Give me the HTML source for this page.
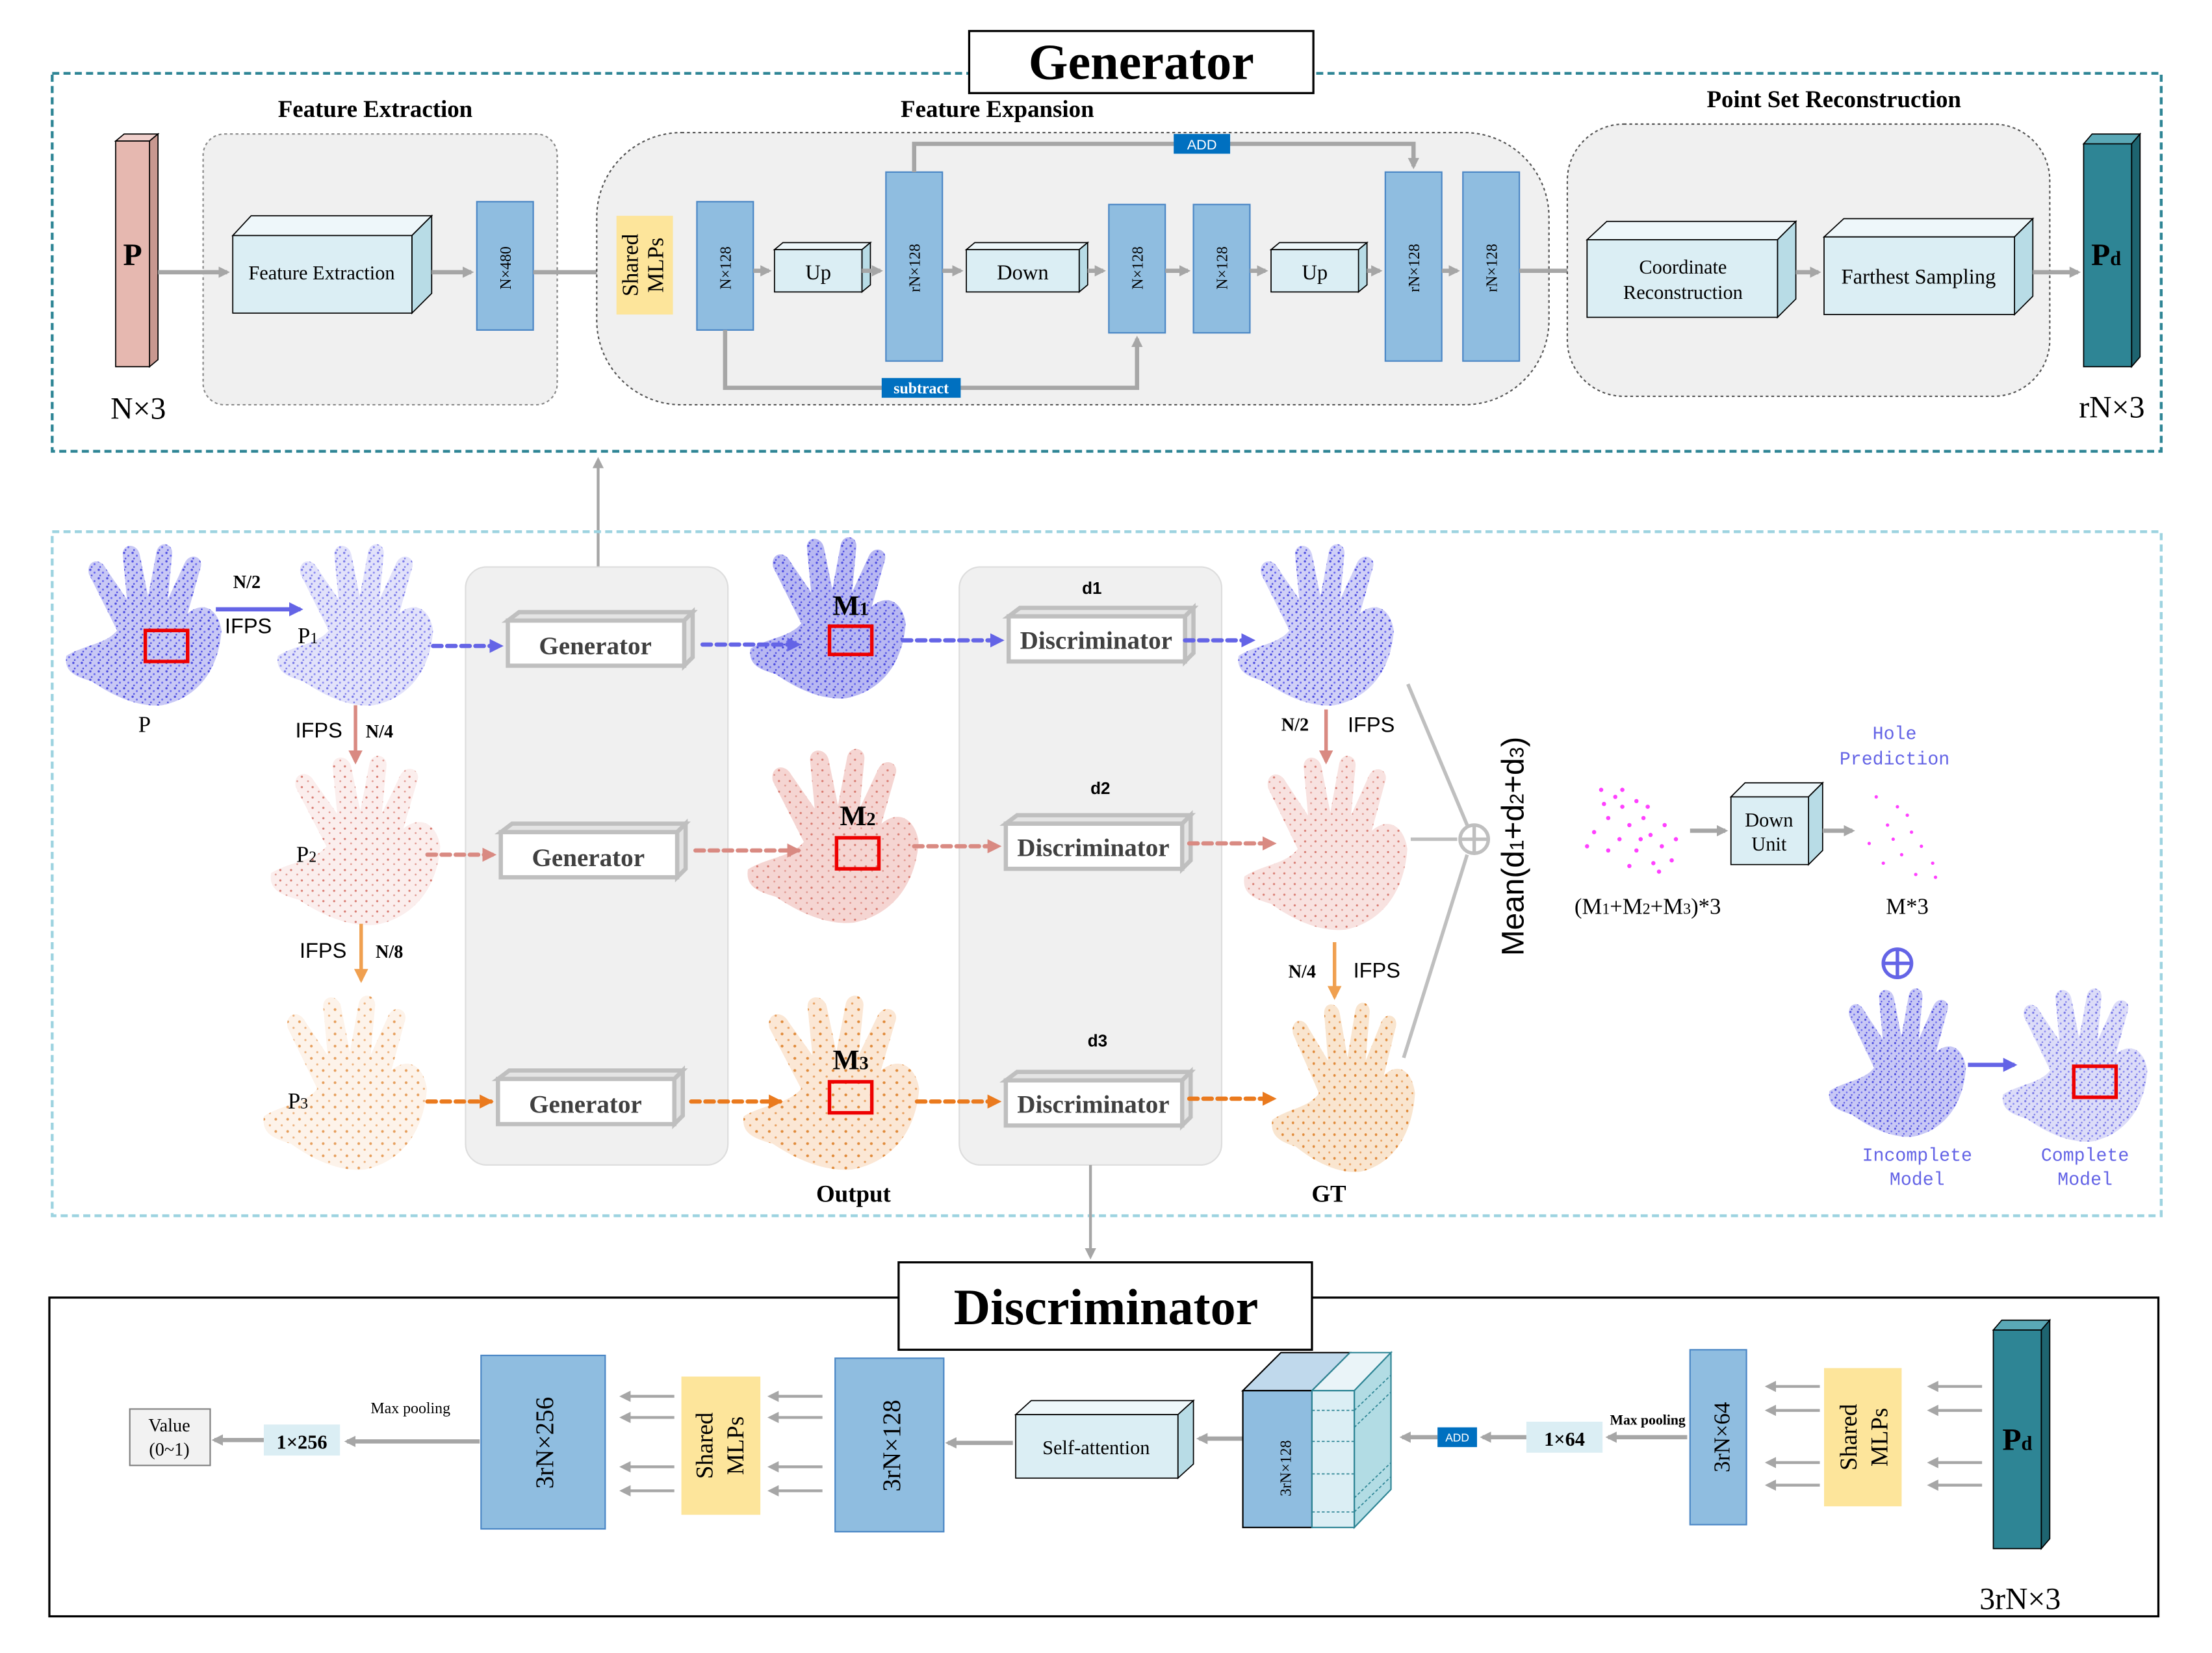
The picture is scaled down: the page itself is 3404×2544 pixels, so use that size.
<!DOCTYPE html>
<html><head><meta charset="utf-8"><style>html,body{margin:0;padding:0;background:#fff}svg{display:block}</style></head><body>
<svg xmlns="http://www.w3.org/2000/svg" width="3404" height="2544" viewBox="0 0 1568 1172" preserveAspectRatio="none" font-family="Liberation Serif, serif">
<defs>
<marker id="ag" markerWidth="8" markerHeight="8" refX="6" refY="4" orient="auto" markerUnits="userSpaceOnUse"><path d="M0,0 L8,4 L0,8 Z" fill="#a6a6a6"/></marker>
<marker id="ab" markerWidth="10" markerHeight="10" refX="8" refY="5" orient="auto" markerUnits="userSpaceOnUse"><path d="M0,0 L10,5 L0,10 Z" fill="#6464e6"/></marker>
<marker id="ap" markerWidth="10" markerHeight="10" refX="8" refY="5" orient="auto" markerUnits="userSpaceOnUse"><path d="M0,0 L10,5 L0,10 Z" fill="#d98a82"/></marker>
<marker id="ao" markerWidth="10" markerHeight="10" refX="8" refY="5" orient="auto" markerUnits="userSpaceOnUse"><path d="M0,0 L10,5 L0,10 Z" fill="#ea7a1e"/></marker>
<marker id="aq" markerWidth="10" markerHeight="10" refX="8" refY="5" orient="auto" markerUnits="userSpaceOnUse"><path d="M0,0 L10,5 L0,10 Z" fill="#f0a050"/></marker>
<pattern id="pb" width="6" height="6" patternUnits="userSpaceOnUse"><circle cx="1" cy="1" r="0.8" fill="#4a4ae0"/><circle cx="4" cy="3" r="0.7" fill="#6a6af0"/><circle cx="2" cy="5" r="0.6" fill="#4a4ae0"/></pattern>
<pattern id="pp" width="7" height="7" patternUnits="userSpaceOnUse"><circle cx="1" cy="1" r="0.7" fill="#d77a70"/><circle cx="5" cy="4" r="0.6" fill="#e09890"/></pattern>
<pattern id="po" width="8" height="8" patternUnits="userSpaceOnUse"><circle cx="2" cy="2" r="0.9" fill="#e08a3a"/><circle cx="6" cy="6" r="0.7" fill="#e8a060"/></pattern>
<path id="hand" d="M2,80 C15,72 30,72 38,62 L18,22 C16,12 26,10 30,18 L45,40 L42,8 C42,0 52,0 54,8 L60,38 L66,6 C68,-2 78,0 77,8 L74,40 L86,14 C90,6 100,10 97,18 L88,50 C100,40 110,48 112,62 C110,90 95,110 70,115 C50,117 30,105 20,98 C10,95 0,92 2,80 Z"/>
</defs>

<rect x="37" y="52" width="1495" height="268" fill="none" stroke="#2e8595" stroke-width="2" stroke-dasharray="5,3"/>
<rect x="687" y="22" width="244" height="44" fill="#fff" stroke="#000" stroke-width="1.5"/>
<text x="809" y="56" text-anchor="middle" font-size="36" font-weight="bold">Generator</text>

<path d="M82,100 L88,95 L112,95 L106,100 Z" fill="#f0d0cc" stroke="#000" stroke-width="0.8"/>
<path d="M106,100 L112,95 L112,255 L106,260 Z" fill="#c89890" stroke="#000" stroke-width="0.8"/>
<rect x="82" y="100" width="24" height="160" fill="#e6b8b0" stroke="#000" stroke-width="0.8"/>
<text x="94" y="188" text-anchor="middle" font-size="22" font-weight="bold">P</text>
<text x="98" y="297" text-anchor="middle" font-size="22">N×3</text>

<rect x="144" y="95" width="251" height="192" rx="15" fill="#f0f0f0" stroke="#888" stroke-dasharray="2,2"/>
<text x="266" y="83" text-anchor="middle" font-size="17" font-weight="bold">Feature Extraction</text>
<path d="M165,167 L178,153 L306,153 L292,167 Z" fill="#eef7fa" stroke="#000" stroke-width="0.8"/>
<path d="M292,167 L306,153 L306,208 L292,222 Z" fill="#b8dce6" stroke="#000" stroke-width="0.8"/>
<rect x="165" y="167" width="127" height="55" fill="#dbeef4" stroke="#000" stroke-width="0.8"/>
<text x="228" y="198" text-anchor="middle" font-size="14">Feature Extraction</text>
<rect x="338" y="143" width="40" height="91" fill="#8fbde0" stroke="#4a86c5"/>
<text transform="translate(362,190) rotate(-90)" text-anchor="middle" font-size="11">N×480</text>
<line x1="112" y1="193" x2="161" y2="193" stroke="#a6a6a6" stroke-width="3" marker-end="url(#ag)"/>
<line x1="306" y1="193" x2="334" y2="193" stroke="#a6a6a6" stroke-width="3" marker-end="url(#ag)"/>
<line x1="378" y1="193" x2="433" y2="193" stroke="#a6a6a6" stroke-width="3" marker-end="url(#ag)"/>

<rect x="423" y="94" width="675" height="193" rx="60" fill="#f0f0f0" stroke="#555" stroke-dasharray="2,2"/>
<text x="707" y="83" text-anchor="middle" font-size="17" font-weight="bold">Feature Expansion</text>
<rect x="437" y="153" width="40" height="70" fill="#fde59b"/>
<text transform="translate(452,188) rotate(-90)" text-anchor="middle" font-size="16">Shared</text>
<text transform="translate(470,188) rotate(-90)" text-anchor="middle" font-size="16">MLPs</text>
<rect x="494" y="143" width="40" height="91" fill="#8fbde0" stroke="#4a86c5"/>
<text transform="translate(518,190) rotate(-90)" text-anchor="middle" font-size="11">N×128</text>
<g stroke="#000" stroke-width="0.8">
<path d="M549,177 L555,172 L617,172 L611,177 Z" fill="#eef7fa"/><path d="M611,177 L617,172 L617,202 L611,207 Z" fill="#b8dce6"/>
<rect x="549" y="177" width="62" height="30" fill="#dbeef4"/>
<path d="M685,177 L691,172 L771,172 L765,177 Z" fill="#eef7fa"/><path d="M765,177 L771,172 L771,202 L765,207 Z" fill="#b8dce6"/>
<rect x="685" y="177" width="80" height="30" fill="#dbeef4"/>
<path d="M901,177 L907,172 L969,172 L963,177 Z" fill="#eef7fa"/><path d="M963,177 L969,172 L969,202 L963,207 Z" fill="#b8dce6"/>
<rect x="901" y="177" width="62" height="30" fill="#dbeef4"/>
</g>
<text x="580" y="198" text-anchor="middle" font-size="15">Up</text>
<text x="725" y="198" text-anchor="middle" font-size="15">Down</text>
<text x="932" y="198" text-anchor="middle" font-size="15">Up</text>
<g fill="#8fbde0" stroke="#4a86c5">
<rect x="628" y="122" width="40" height="134"/><rect x="786" y="145" width="40" height="91"/><rect x="846" y="145" width="40" height="91"/>
<rect x="982" y="122" width="40" height="134"/><rect x="1037" y="122" width="40" height="134"/>
</g>
<g font-size="11" text-anchor="middle">
<text transform="translate(652,190) rotate(-90)">rN×128</text>
<text transform="translate(810,190) rotate(-90)">N×128</text>
<text transform="translate(870,190) rotate(-90)">N×128</text>
<text transform="translate(1006,190) rotate(-90)">rN×128</text>
<text transform="translate(1061,190) rotate(-90)">rN×128</text>
</g>
<g stroke="#a6a6a6" stroke-width="3" fill="none">
<line x1="534" y1="192" x2="545" y2="192" marker-end="url(#ag)"/>
<line x1="611" y1="192" x2="624" y2="192" marker-end="url(#ag)"/>
<line x1="668" y1="192" x2="681" y2="192" marker-end="url(#ag)"/>
<line x1="771" y1="192" x2="782" y2="192" marker-end="url(#ag)"/>
<line x1="826" y1="192" x2="842" y2="192" marker-end="url(#ag)"/>
<line x1="886" y1="192" x2="897" y2="192" marker-end="url(#ag)"/>
<line x1="969" y1="192" x2="978" y2="192" marker-end="url(#ag)"/>
<line x1="1022" y1="192" x2="1033" y2="192" marker-end="url(#ag)"/>
<line x1="1077" y1="192" x2="1121" y2="192" marker-end="url(#ag)"/>
<polyline points="648,122 648,102 1002,102 1002,118" marker-end="url(#ag)"/>
<polyline points="514,234 514,275 806,275 806,240" marker-end="url(#ag)"/>
</g>
<rect x="832" y="95" width="40" height="14" fill="#0070c0"/><text x="852" y="106" text-anchor="middle" font-size="10" fill="#fff" font-family="Liberation Sans, sans-serif">ADD</text>
<rect x="625" y="268" width="56" height="14" fill="#0070c0"/><text x="653" y="279" text-anchor="middle" font-size="11" fill="#fff" font-weight="bold">subtract</text>

<rect x="1111" y="88" width="342" height="193" rx="40" fill="#f0f0f0" stroke="#555" stroke-dasharray="2,2"/>
<text x="1300" y="76" text-anchor="middle" font-size="17" font-weight="bold">Point Set Reconstruction</text>
<g stroke="#000" stroke-width="0.8">
<path d="M1125,170 L1139,157 L1273,157 L1260,170 Z" fill="#eef7fa"/><path d="M1260,170 L1273,157 L1273,212 L1260,225 Z" fill="#b8dce6"/>
<rect x="1125" y="170" width="135" height="55" fill="#dbeef4"/>
<path d="M1293,168 L1307,155 L1441,155 L1428,168 Z" fill="#eef7fa"/><path d="M1428,168 L1441,155 L1441,210 L1428,223 Z" fill="#b8dce6"/>
<rect x="1293" y="168" width="135" height="55" fill="#dbeef4"/>
</g>
<text x="1193" y="194" text-anchor="middle" font-size="14">Coordinate</text>
<text x="1193" y="212" text-anchor="middle" font-size="14">Reconstruction</text>
<text x="1360" y="201" text-anchor="middle" font-size="15">Farthest Sampling</text>
<line x1="1273" y1="193" x2="1289" y2="193" stroke="#a6a6a6" stroke-width="3" marker-end="url(#ag)"/>
<line x1="1441" y1="193" x2="1473" y2="193" stroke="#a6a6a6" stroke-width="3" marker-end="url(#ag)"/>
<path d="M1477,102 L1483,95 L1517,95 L1511,102 Z" fill="#5aa8b6" stroke="#000" stroke-width="0.8"/>
<path d="M1511,102 L1517,95 L1517,253 L1511,260 Z" fill="#1e6470" stroke="#000" stroke-width="0.8"/>
<rect x="1477" y="102" width="34" height="158" fill="#2e8595" stroke="#000" stroke-width="0.8"/>
<text x="1493" y="188" text-anchor="middle" font-size="22" font-weight="bold">P<tspan font-size="14">d</tspan></text>
<text x="1497" y="296" text-anchor="middle" font-size="22">rN×3</text>

<line x1="424" y1="402" x2="424" y2="326" stroke="#a6a6a6" stroke-width="2" marker-end="url(#ag)"/>

<rect x="37" y="377" width="1495" height="485" fill="none" stroke="#9dd3e0" stroke-width="2" stroke-dasharray="5,3"/>
<rect x="330" y="402" width="186" height="424" rx="15" fill="#f0f0f0" stroke="#ddd"/>
<rect x="680" y="402" width="186" height="424" rx="15" fill="#f0f0f0" stroke="#ddd"/>

<g>
<use href="#hand" transform="translate(45,385)" fill="#c8c8f5"/><use href="#hand" transform="translate(45,385)" fill="url(#pb)"/>
<use href="#hand" transform="translate(195,385)" fill="#e2e2fa"/><use href="#hand" transform="translate(195,385)" fill="url(#pb)" opacity="0.7"/>
<use href="#hand" transform="translate(530,380)" fill="#b8b8f2"/><use href="#hand" transform="translate(530,380)" fill="url(#pb)"/>
<use href="#hand" transform="translate(876,385)" fill="#d0d0f7"/><use href="#hand" transform="translate(876,385)" fill="url(#pb)"/>
<use href="#hand" transform="translate(190,535) scale(1.09,1.05)" fill="#fbeeed"/><use href="#hand" transform="translate(190,535) scale(1.09,1.05)" fill="url(#pp)"/>
<use href="#hand" transform="translate(528,530) scale(1.1,1.08)" fill="#f5d5d2"/><use href="#hand" transform="translate(528,530) scale(1.1,1.08)" fill="url(#pp)"/>
<use href="#hand" transform="translate(880,535) scale(1.05,1.08)" fill="#f8e2e0"/><use href="#hand" transform="translate(880,535) scale(1.05,1.08)" fill="url(#pp)"/>
<use href="#hand" transform="translate(185,705) scale(1.05,1.08)" fill="#fdf3ea"/><use href="#hand" transform="translate(185,705) scale(1.05,1.08)" fill="url(#po)" opacity="0.8"/>
<use href="#hand" transform="translate(525,705) scale(1.13,1.08)" fill="#fbe7d5"/><use href="#hand" transform="translate(525,705) scale(1.13,1.08)" fill="url(#po)"/>
<use href="#hand" transform="translate(900,710) scale(0.92,1.05)" fill="#f9e5cf"/><use href="#hand" transform="translate(900,710) scale(0.92,1.05)" fill="url(#po)"/>
<use href="#hand" transform="translate(1295,700) scale(0.88,0.92)" fill="#c8c8f5"/><use href="#hand" transform="translate(1295,700) scale(0.88,0.92)" fill="url(#pb)"/>
<use href="#hand" transform="translate(1418,700) scale(0.93,0.95)" fill="#dcdcf8"/><use href="#hand" transform="translate(1418,700) scale(0.93,0.95)" fill="url(#pb)" opacity="0.7"/>
</g>
<g fill="none" stroke="#e00" stroke-width="2.5">
<rect x="103" y="447" width="30" height="22"/><rect x="588" y="444" width="30" height="20"/><rect x="593" y="594" width="30" height="22"/>
<rect x="588" y="767" width="30" height="22"/><rect x="1470" y="756" width="30" height="22"/>
</g>

<g stroke="#bfbfbf" stroke-width="3">
<path d="M360,440 L368,434 L491,434 L485,440 Z" fill="#e4e4e4"/><path d="M485,440 L491,434 L491,466 L485,472 Z" fill="#e4e4e4"/><rect x="360" y="440" width="125" height="32" fill="#fff"/>
<path d="M355,590 L363,584 L486,584 L480,590 Z" fill="#e4e4e4"/><path d="M480,590 L486,584 L486,616 L480,622 Z" fill="#e4e4e4"/><rect x="355" y="590" width="125" height="32" fill="#fff"/>
<path d="M353,765 L361,759 L484,759 L478,765 Z" fill="#e4e4e4"/><path d="M478,765 L484,759 L484,791 L478,797 Z" fill="#e4e4e4"/><rect x="353" y="765" width="125" height="32" fill="#fff"/>
<path d="M715,437 L723,431 L846,431 L840,437 Z" fill="#e4e4e4"/><path d="M840,437 L846,431 L846,463 L840,469 Z" fill="#e4e4e4"/><rect x="715" y="437" width="125" height="32" fill="#fff"/>
<path d="M713,584 L721,578 L844,578 L838,584 Z" fill="#e4e4e4"/><path d="M838,584 L844,578 L844,610 L838,616 Z" fill="#e4e4e4"/><rect x="713" y="584" width="125" height="32" fill="#fff"/>
<path d="M713,766 L721,760 L844,760 L838,766 Z" fill="#e4e4e4"/><path d="M838,766 L844,760 L844,792 L838,798 Z" fill="#e4e4e4"/><rect x="713" y="766" width="125" height="32" fill="#fff"/>
</g>
<g font-size="18" font-weight="bold" fill="#404040" text-anchor="middle">
<text x="422" y="464">Generator</text><text x="417" y="614">Generator</text><text x="415" y="789">Generator</text>
<text x="777" y="460">Discriminator</text><text x="775" y="607">Discriminator</text><text x="775" y="789">Discriminator</text>
</g>
<g font-family="Liberation Sans, sans-serif" font-size="12" font-weight="bold" text-anchor="middle">
<text x="774" y="421">d1</text><text x="780" y="563">d2</text><text x="778" y="742">d3</text>
</g>

<g font-size="16">
<text x="98" y="519">P</text><text x="211" y="456">P<tspan font-size="11">1</tspan></text>
<text x="210" y="611">P<tspan font-size="11">2</tspan></text><text x="204" y="786">P<tspan font-size="11">3</tspan></text>
</g>
<g font-size="20" font-weight="bold" text-anchor="middle">
<text x="603" y="436">M<tspan font-size="13">1</tspan></text><text x="608" y="585">M<tspan font-size="13">2</tspan></text><text x="603" y="758">M<tspan font-size="13">3</tspan></text>
</g>
<text x="605" y="852" text-anchor="middle" font-size="17" font-weight="bold">Output</text>
<text x="942" y="852" text-anchor="middle" font-size="17" font-weight="bold">GT</text>

<line x1="153" y1="432" x2="213" y2="432" stroke="#6464e6" stroke-width="3" marker-end="url(#ab)"/>
<text x="175" y="417" text-anchor="middle" font-size="13" font-weight="bold">N/2</text>
<text x="176" y="449" text-anchor="middle" font-size="15" font-family="Liberation Sans, sans-serif">IFPS</text>
<line x1="252" y1="500" x2="252" y2="540" stroke="#d98a82" stroke-width="2.5" marker-end="url(#ap)"/>
<text x="226" y="523" text-anchor="middle" font-size="15" font-family="Liberation Sans, sans-serif">IFPS</text>
<text x="269" y="523" text-anchor="middle" font-size="13" font-weight="bold">N/4</text>
<line x1="256" y1="655" x2="256" y2="695" stroke="#f0a050" stroke-width="2.5" marker-end="url(#aq)"/>
<text x="229" y="679" text-anchor="middle" font-size="15" font-family="Liberation Sans, sans-serif">IFPS</text>
<text x="276" y="679" text-anchor="middle" font-size="13" font-weight="bold">N/8</text>
<line x1="940" y1="503" x2="940" y2="540" stroke="#d98a82" stroke-width="2.5" marker-end="url(#ap)"/>
<text x="918" y="518" text-anchor="middle" font-size="13" font-weight="bold">N/2</text>
<text x="972" y="519" text-anchor="middle" font-size="15" font-family="Liberation Sans, sans-serif">IFPS</text>
<line x1="946" y1="668" x2="946" y2="707" stroke="#f0a050" stroke-width="2.5" marker-end="url(#aq)"/>
<text x="923" y="693" text-anchor="middle" font-size="13" font-weight="bold">N/4</text>
<text x="976" y="693" text-anchor="middle" font-size="15" font-family="Liberation Sans, sans-serif">IFPS</text>

<g stroke-width="3" stroke-dasharray="6,4" stroke-linecap="round">
<g stroke="#6464e6"><line x1="307" y1="458" x2="355" y2="458" marker-end="url(#ab)"/><line x1="498" y1="457" x2="566" y2="457" marker-end="url(#ab)"/><line x1="640" y1="454" x2="710" y2="454" marker-end="url(#ab)"/><line x1="840" y1="454" x2="888" y2="454" marker-end="url(#ab)"/></g>
<g stroke="#d98a82"><line x1="303" y1="606" x2="350" y2="606" marker-end="url(#ap)"/><line x1="493" y1="603" x2="566" y2="603" marker-end="url(#ap)"/><line x1="648" y1="600" x2="708" y2="600" marker-end="url(#ap)"/><line x1="843" y1="598" x2="903" y2="598" marker-end="url(#ap)"/></g>
<g stroke="#ea7a1e"><line x1="303" y1="781" x2="348" y2="781" marker-end="url(#ao)"/><line x1="490" y1="781" x2="553" y2="781" marker-end="url(#ao)"/><line x1="650" y1="781" x2="708" y2="781" marker-end="url(#ao)"/><line x1="843" y1="779" x2="903" y2="779" marker-end="url(#ao)"/></g>
</g>

<g stroke="#bfbfbf" stroke-width="2.5" fill="none">
<line x1="998" y1="485" x2="1040" y2="585"/><line x1="1000" y1="595" x2="1033" y2="595"/><line x1="995" y1="750" x2="1040" y2="606"/>
<circle cx="1045" cy="595" r="10" fill="#fff"/><line x1="1035" y1="595" x2="1055" y2="595"/><line x1="1045" y1="585" x2="1045" y2="605"/>
</g>
<text transform="translate(1080,600) rotate(-90)" text-anchor="middle" font-size="22" font-family="Liberation Sans, sans-serif">Mean(d<tspan font-size="14">1</tspan>+d<tspan font-size="14">2</tspan>+d<tspan font-size="14">3</tspan>)</text>

<g fill="#ff40ff">
<circle cx="1135" cy="560" r="1.5"/><circle cx="1145" cy="565" r="1.5"/><circle cx="1150" cy="572" r="1.5"/><circle cx="1160" cy="568" r="1.5"/><circle cx="1140" cy="580" r="1.5"/><circle cx="1155" cy="585" r="1.5"/><circle cx="1165" cy="580" r="1.5"/><circle cx="1130" cy="590" r="1.5"/><circle cx="1148" cy="595" r="1.5"/><circle cx="1170" cy="592" r="1.5"/><circle cx="1178" cy="600" r="1.5"/><circle cx="1160" cy="603" r="1.5"/><circle cx="1140" cy="603" r="1.5"/><circle cx="1185" cy="610" r="1.5"/><circle cx="1172" cy="612" r="1.5"/><circle cx="1155" cy="614" r="1.5"/><circle cx="1180" cy="585" r="1.5"/><circle cx="1168" cy="572" r="1.5"/><circle cx="1137" cy="570" r="1.5"/><circle cx="1125" cy="600" r="1.5"/><circle cx="1188" cy="595" r="1.5"/><circle cx="1150" cy="560" r="1.5"/><circle cx="1163" cy="595" r="1.5"/><circle cx="1176" cy="618" r="1.5"/>
<circle cx="1330" cy="565" r="1.2"/><circle cx="1345" cy="572" r="1.2"/><circle cx="1338" cy="585" r="1.2"/><circle cx="1355" cy="590" r="1.2"/><circle cx="1325" cy="598" r="1.2"/><circle cx="1362" cy="600" r="1.2"/><circle cx="1348" cy="606" r="1.2"/><circle cx="1370" cy="612" r="1.2"/><circle cx="1335" cy="612" r="1.2"/><circle cx="1358" cy="620" r="1.2"/><circle cx="1372" cy="622" r="1.2"/><circle cx="1352" cy="578" r="1.2"/><circle cx="1342" cy="595" r="1.2"/>
</g>
<text x="1168" y="648" text-anchor="middle" font-size="16">(M<tspan font-size="11">1</tspan>+M<tspan font-size="11">2</tspan>+M<tspan font-size="11">3</tspan>)*3</text>
<line x1="1198" y1="589" x2="1223" y2="589" stroke="#a6a6a6" stroke-width="3" marker-end="url(#ag)"/>
<g stroke="#000" stroke-width="0.8">
<path d="M1227,565 L1237,555 L1292,555 L1282,565 Z" fill="#eef7fa"/><path d="M1282,565 L1292,555 L1292,603 L1282,613 Z" fill="#b8dce6"/>
<rect x="1227" y="565" width="55" height="48" fill="#dbeef4"/>
</g>
<text x="1254" y="586" text-anchor="middle" font-size="14">Down</text><text x="1254" y="603" text-anchor="middle" font-size="14">Unit</text>
<line x1="1292" y1="589" x2="1313" y2="589" stroke="#a6a6a6" stroke-width="3" marker-end="url(#ag)"/>
<g font-family="Liberation Mono, monospace" font-size="13" fill="#6464e6" text-anchor="middle">
<text x="1343" y="524">Hole</text><text x="1343" y="542">Prediction</text>
<text x="1359" y="823">Incomplete</text><text x="1359" y="840">Model</text>
<text x="1478" y="823">Complete</text><text x="1478" y="840">Model</text>
</g>
<text x="1352" y="648" text-anchor="middle" font-size="16">M*3</text>
<circle cx="1345" cy="683" r="10" fill="none" stroke="#6464e6" stroke-width="2.5"/>
<line x1="1335" y1="683" x2="1355" y2="683" stroke="#6464e6" stroke-width="2.5"/><line x1="1345" y1="673" x2="1345" y2="693" stroke="#6464e6" stroke-width="2.5"/>
<line x1="1395" y1="755" x2="1428" y2="755" stroke="#6464e6" stroke-width="3" marker-end="url(#ab)"/>

<line x1="773" y1="826" x2="773" y2="891" stroke="#a6a6a6" stroke-width="2" marker-end="url(#ag)"/>

<rect x="35" y="920" width="1495" height="226" fill="none" stroke="#000" stroke-width="1.5"/>
<rect x="637" y="895" width="293" height="62" fill="#fff" stroke="#000" stroke-width="1.5"/>
<text x="784" y="939" text-anchor="middle" font-size="36" font-weight="bold">Discriminator</text>

<path d="M1413,943 L1419,936 L1453,936 L1447,943 Z" fill="#5aa8b6" stroke="#000" stroke-width="0.8"/>
<path d="M1447,943 L1453,936 L1453,1091 L1447,1098 Z" fill="#1e6470" stroke="#000" stroke-width="0.8"/>
<rect x="1413" y="943" width="34" height="155" fill="#2e8595" stroke="#000" stroke-width="0.8"/>
<text x="1430" y="1028" text-anchor="middle" font-size="22" font-weight="bold">P<tspan font-size="14">d</tspan></text>
<text x="1432" y="1141" text-anchor="middle" font-size="22">3rN×3</text>

<g stroke="#a6a6a6" stroke-width="2">
<line x1="1405" y1="983" x2="1368" y2="983" marker-end="url(#ag)"/><line x1="1405" y1="1000" x2="1368" y2="1000" marker-end="url(#ag)"/><line x1="1405" y1="1037" x2="1368" y2="1037" marker-end="url(#ag)"/><line x1="1405" y1="1053" x2="1368" y2="1053" marker-end="url(#ag)"/>
<line x1="1290" y1="983" x2="1253" y2="983" marker-end="url(#ag)"/><line x1="1290" y1="1000" x2="1253" y2="1000" marker-end="url(#ag)"/><line x1="1290" y1="1037" x2="1253" y2="1037" marker-end="url(#ag)"/><line x1="1290" y1="1053" x2="1253" y2="1053" marker-end="url(#ag)"/>
<line x1="583" y1="990" x2="546" y2="990" marker-end="url(#ag)"/><line x1="583" y1="1005" x2="546" y2="1005" marker-end="url(#ag)"/><line x1="583" y1="1040" x2="546" y2="1040" marker-end="url(#ag)"/><line x1="583" y1="1057" x2="546" y2="1057" marker-end="url(#ag)"/>
<line x1="478" y1="990" x2="441" y2="990" marker-end="url(#ag)"/><line x1="478" y1="1005" x2="441" y2="1005" marker-end="url(#ag)"/><line x1="478" y1="1040" x2="441" y2="1040" marker-end="url(#ag)"/><line x1="478" y1="1057" x2="441" y2="1057" marker-end="url(#ag)"/>
</g>
<rect x="1293" y="970" width="55" height="98" fill="#fde59b"/>
<text transform="translate(1316,1019) rotate(-90)" text-anchor="middle" font-size="17">Shared</text>
<text transform="translate(1338,1019) rotate(-90)" text-anchor="middle" font-size="17">MLPs</text>
<rect x="483" y="976" width="56" height="98" fill="#fde59b"/>
<text transform="translate(505,1025) rotate(-90)" text-anchor="middle" font-size="17">Shared</text>
<text transform="translate(527,1025) rotate(-90)" text-anchor="middle" font-size="17">MLPs</text>
<rect x="1198" y="957" width="40" height="124" fill="#8fbde0" stroke="#4a86c5"/>
<text transform="translate(1226,1019) rotate(-90)" text-anchor="middle" font-size="16">3rN×64</text>
<rect x="592" y="963" width="77" height="123" fill="#8fbde0" stroke="#4a86c5"/>
<text transform="translate(638,1025) rotate(-90)" text-anchor="middle" font-size="18">3rN×128</text>
<rect x="341" y="961" width="88" height="123" fill="#8fbde0" stroke="#4a86c5"/>
<text transform="translate(392,1023) rotate(-90)" text-anchor="middle" font-size="18">3rN×256</text>

<text x="1168" y="1010" text-anchor="middle" font-size="10" font-weight="bold">Max pooling</text>
<g stroke="#a6a6a6" stroke-width="3">
<line x1="1196" y1="1019" x2="1140" y2="1019" marker-end="url(#ag)"/>
<line x1="1082" y1="1019" x2="1051" y2="1019" marker-end="url(#ag)"/>
<line x1="1019" y1="1019" x2="994" y2="1019" marker-end="url(#ag)"/>
<line x1="881" y1="1020" x2="850" y2="1020" marker-end="url(#ag)"/>
<line x1="718" y1="1023" x2="672" y2="1023" marker-end="url(#ag)"/>
<line x1="340" y1="1022" x2="246" y2="1022" marker-end="url(#ag)"/>
<line x1="187" y1="1021" x2="152" y2="1021" marker-end="url(#ag)"/>
</g>
<rect x="1082" y="1008" width="54" height="22" fill="#dbeef4"/>
<text x="1109" y="1025" text-anchor="middle" font-size="14" font-weight="bold">1×64</text>
<rect x="1019" y="1012" width="28" height="14" fill="#0070c0"/>
<text x="1033" y="1022" text-anchor="middle" font-size="8" fill="#fff" font-family="Liberation Sans, sans-serif">ADD</text>

<path d="M881,986 L908,959 L957,959 L930,986 Z" fill="#c0d9ec" stroke="#000"/>
<path d="M930,986 L957,959 L986,959 L960,986 Z" fill="#eaf4f8" stroke="#2e8595"/>
<path d="M960,986 L986,959 L986,1056 L960,1083 Z" fill="#b2dce4" stroke="#2e8595"/>
<rect x="881" y="986" width="49" height="97" fill="#8fbde0" stroke="#000"/>
<rect x="930" y="986" width="30" height="97" fill="#dbeef4" stroke="#2e8595"/>
<g stroke="#2e8595" stroke-dasharray="2,1.5" stroke-width="0.8">
<line x1="930" y1="1000" x2="960" y2="1000"/><line x1="930" y1="1022" x2="960" y2="1022"/><line x1="930" y1="1072" x2="960" y2="1072"/><line x1="930" y1="1045" x2="960" y2="1045"/>
<line x1="960" y1="1000" x2="986" y2="975"/><line x1="960" y1="1012" x2="986" y2="987"/><line x1="960" y1="1062" x2="986" y2="1037"/><line x1="960" y1="1072" x2="986" y2="1047"/>
</g>
<text transform="translate(915,1041) rotate(-90)" text-anchor="middle" font-size="11">3rN×128</text>

<g stroke="#000" stroke-width="0.8">
<path d="M720,1003 L731,993 L846,993 L835,1003 Z" fill="#eef7fa"/><path d="M835,1003 L846,993 L846,1038 L835,1048 Z" fill="#b8dce6"/>
<rect x="720" y="1003" width="115" height="45" fill="#dbeef4"/>
</g>
<text x="777" y="1031" text-anchor="middle" font-size="14">Self-attention</text>

<text x="291" y="1002" text-anchor="middle" font-size="11">Max pooling</text>
<rect x="187" y="1010" width="54" height="22" fill="#dbeef4"/>
<text x="214" y="1027" text-anchor="middle" font-size="14" font-weight="bold">1×256</text>
<rect x="92" y="999" width="57" height="40" fill="#f2f2f2" stroke="#808080"/>
<text x="120" y="1015" text-anchor="middle" font-size="13">Value</text>
<text x="120" y="1032" text-anchor="middle" font-size="13">(0~1)</text>
</svg>
</body></html>
